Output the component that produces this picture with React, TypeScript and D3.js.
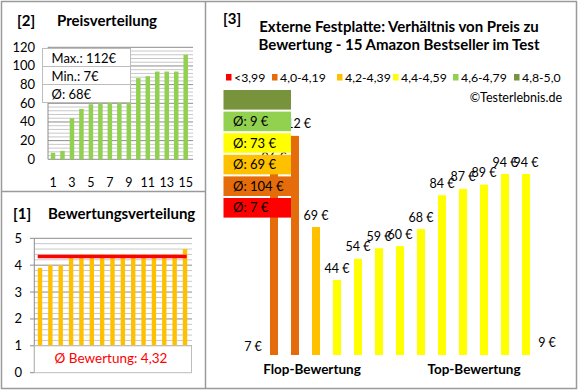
import React from "react";
import * as d3 from "d3";

// ---- data ----
const mainPrices = [7, 96, 112, 69, 44, 54, 59, 60, 68, 84, 87, 89, 94, 94, 9];
const mainRatings = [3.9, 4.0, 4.0, 4.3, 4.4, 4.4, 4.4, 4.4, 4.4, 4.4, 4.4, 4.4, 4.4, 4.4, 4.6];
const mainAxisMin = 9.5;
const priceDist = [7, 9, 44, 54, 59, 60, 68, 69, 84, 87, 89, 94, 94, 94, 112];
const priceTicks = [0, 20, 40, 60, 80, 100, 120];
const priceXLabels = [1, 3, 5, 7, 9, 11, 13, 15];
const ratingDist = [3.9, 4.0, 4.0, 4.3, 4.4, 4.4, 4.4, 4.4, 4.4, 4.4, 4.4, 4.4, 4.4, 4.4, 4.6];
const ratingTicks = [0, 1, 2, 3, 4, 5];
const avgRating = 4.32;
const avgRatingLabel = "Ø Bewertung: 4,32";
const priceStats = ["Max.: 112€", "Min.: 7€", "Ø: 68€"];
const categoryLabels = ["<3,99", "4,0-4,19", "4,2-4,39", "4,4-4,59", "4,6-4,79", "4,8-5,0"];
const categoryMins = [0, 4.0, 4.2, 4.4, 4.6, 4.8];
const categoryColors = ["#FF0000", "#E46C0A", "#FFC000", "#FFFF00", "#92D050", "#77933C"];
const categoryAvgLabels = ["Ø: 7 €", "Ø: 104 €", "Ø: 69 €", "Ø: 73 €", "Ø: 9 €", ""];

const FONT = "Lato, 'Open Sans', sans-serif";

function catIndex(r: number) {
  let idx = 0;
  categoryMins.forEach((m, i) => {
    if (r >= m - 1e-9) idx = i;
  });
  return idx;
}

export default function App() {
  // panel [2]
  const x2 = d3.scaleLinear().domain([0, 14]).range([53, 185.7]);
  const y2 = d3.scaleLinear().domain([0, 120]).range([159.3, 47.3]);
  const grid2 = d3.range(0, 121, 4);

  // panel [1]
  const x1 = d3.scaleLinear().domain([0, 14]).range([40, 185]);
  const y1 = d3.scaleLinear().domain([0, 5]).range([372.7, 238.3]);
  const grid1 = d3.range(1, 5.001, 0.2);

  // panel [3]
  const x3 = d3.scaleLinear().domain([0, 14]).range([253, 547]);
  const y3 = d3.scaleLinear().domain([0, 120]).range([373.3, 118.9]);
  const base3 = 355;

  const legendX = [226, 272, 337, 393, 453, 514];

  return (
    <svg
      width={580}
      height={390}
      style={{ position: "absolute", left: 0, top: 0, background: "#fff" }}
      fontFamily={FONT}
    >
      <rect x={0} y={0} width={580} height={390} fill="#fff" />
      {/* frames */}
      <g stroke="#9a9a9a" strokeWidth={1.5} fill="none">
        <rect x={1.5} y={1.5} width={575} height={387} />
        <line x1={205.5} y1={1.5} x2={205.5} y2={388.5} />
        <line x1={1.5} y1={191.5} x2={205.5} y2={191.5} />
      </g>

      {/* ---------- panel [2] ---------- */}
      <text x={17} y={26} fontSize={15} fontWeight="bold" fill="#000">[2]</text>
      <text x={57} y={25.5} fontSize={15} fontWeight="bold" fill="#000">Preisverteilung</text>
      {grid2.map((v) => (
        <line
          key={v}
          x1={48}
          x2={193}
          y1={y2(v)}
          y2={y2(v)}
          stroke={v % 20 === 0 ? "#8c8c8c" : "#c8c8c8"}
          strokeWidth={1}
        />
      ))}
      <line x1={48} x2={48} y1={y2(0)} y2={y2(120)} stroke="#8c8c8c" />
      {priceTicks.map((t) => (
        <text key={t} x={35} y={y2(t) + 4.5} fontSize={13} textAnchor="end" fill="#000">
          {t}
        </text>
      ))}
      {priceDist.map((v, i) => (
        <rect key={i} x={x2(i) - 2.25} width={4.5} y={y2(v)} height={y2(0) - y2(v)} fill="#92D050" />
      ))}
      {priceXLabels.map((l) => (
        <text key={l} x={x2(l - 1)} y={186.5} fontSize={12.5} textAnchor="middle" fill="#000">
          {l}
        </text>
      ))}
      <g>
        {priceStats.map((s, i) => (
          <g key={s}>
            <rect x={42.5} y={48.5 + i * 18} width={88} height={18} fill="#fff" stroke="#bdbdbd" />
            <text x={51.5} y={62.5 + i * 18} fontSize={13} fill="#000">{s}</text>
          </g>
        ))}
      </g>

      {/* ---------- panel [1] ---------- */}
      <text x={13} y={219} fontSize={15} fontWeight="bold" fill="#000">[1]</text>
      <text x={48} y={218.5} fontSize={15} fontWeight="bold" fill="#000">Bewertungsverteilung</text>
      {grid1.map((v, i) => (
        <line
          key={i}
          x1={34.3}
          x2={192}
          y1={y1(v)}
          y2={y1(v)}
          stroke={Math.abs(v - Math.round(v)) < 1e-6 ? "#8c8c8c" : "#c8c8c8"}
          strokeWidth={1}
        />
      ))}
      <line x1={34.3} x2={34.3} y1={y1(0)} y2={y1(5)} stroke="#8c8c8c" />
      {ratingTicks.map((t) => (
        <g key={t}>
          <line x1={30} x2={34.3} y1={y1(t)} y2={y1(t)} stroke="#8c8c8c" />
          <text x={22} y={y1(t) + 4.5} fontSize={13} textAnchor="end" fill="#000">{t}</text>
        </g>
      ))}
      {ratingDist.map((v, i) => (
        <rect key={i} x={x1(i) - 2.2} width={4.4} y={y1(v)} height={y1(0) - y1(v)} fill="#FFC000" />
      ))}
      <line x1={37.7} x2={186.7} y1={y1(avgRating)} y2={y1(avgRating)} stroke="#FF0000" strokeWidth={3.5} />
      <rect x={34.5} y={y1(1)} width={157} height={y1(0) - y1(1)} fill="#fff" stroke="#bdbdbd" />
      <text x={111} y={363} fontSize={13.5} textAnchor="middle" fill="#FF0000">{avgRatingLabel}</text>

      {/* ---------- panel [3] ---------- */}
      <text x={223} y={24} fontSize={15} fontWeight="bold" fill="#000">[3]</text>
      <text x={399} y={31.5} fontSize={15} fontWeight="bold" textAnchor="middle" fill="#000">
        Externe Festplatte: Verhältnis von Preis zu
      </text>
      <text x={399} y={49.5} fontSize={15} fontWeight="bold" textAnchor="middle" fill="#000">
        Bewertung - 15 Amazon Bestseller im Test
      </text>
      {categoryLabels.map((l, i) => (
        <g key={l}>
          <rect x={legendX[i]} y={74} width={5.5} height={6.5} fill={categoryColors[i]} />
          <text x={legendX[i] + 8} y={81.5} fontSize={12.3} fill="#000">{l}</text>
        </g>
      ))}
      <text x={562} y={102} fontSize={12.5} textAnchor="end" fill="#000">©Testerlebnis.de</text>

      {mainPrices.map((v, i) =>
        v > mainAxisMin ? (
          <rect
            key={i}
            x={x3(i) - 4}
            width={8}
            y={y3(v)}
            height={base3 - y3(v)}
            fill={categoryColors[catIndex(mainRatings[i])]}
          />
        ) : null
      )}
      {mainPrices.map((v, i) => (
        <text key={i} x={x3(i)} y={y3(v) - 7.5} fontSize={12.5} textAnchor="middle" fill="#000">
          {v} €
        </text>
      ))}

      {/* category average boxes, stacked bottom (red) to top (dark green) */}
      {categoryColors.map((c, i) => {
        const yTop = 198 - i * 21.6;
        return (
          <g key={c}>
            <rect x={223.5} y={yTop} width={67.5} height={19.6} fill={c} />
            {categoryAvgLabels[i] && (
              <text x={233} y={yTop + 14.3} fontSize={13} fill="#000">{categoryAvgLabels[i]}</text>
            )}
          </g>
        );
      })}

      <text x={312} y={374} fontSize={13.5} fontWeight="bold" textAnchor="middle" fill="#000">Flop-Bewertung</text>
      <text x={474} y={374} fontSize={13.5} fontWeight="bold" textAnchor="middle" fill="#000">Top-Bewertung</text>
    </svg>
  );
}
